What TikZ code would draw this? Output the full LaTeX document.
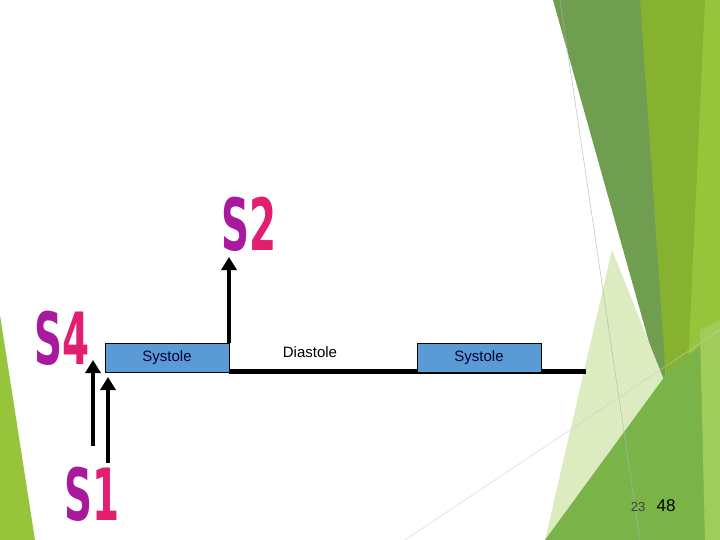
\documentclass[tikz,border=0pt]{standalone}
\usepackage{fontspec}
\setmainfont{Liberation Sans}
\newfontfamily\condfont{DejaVu Sans Condensed Bold}
\usetikzlibrary{arrows.meta}
\definecolor{boxblue}{HTML}{5B9BD5}
\definecolor{sPurple}{HTML}{A8199E}
\definecolor{sPink}{HTML}{E11F6E}
\tikzset{
  sysbox/.style={draw=black, line width=0.8pt, fill=boxblue, minimum width=124pt, minimum height=29pt, inner sep=0pt, font=\fontsize{15}{17}\selectfont, text=black!80!blue},
  bigarrow/.style={line width=4pt, -{Triangle[width=15pt,length=13pt]}},
  heart/.style={font=\condfont\fontsize{72}{72}\selectfont, xscale=0.6, inner sep=0pt}
}
\newcommand{\heartlbl}[1]{\textcolor{sPurple}{S}\textcolor{sPink}{#1}}
\begin{document}
\begin{tikzpicture}[x=1pt,y=-1pt]
\useasboundingbox (0,0) rectangle (720,540);
\fill[white] (0,0) rectangle (720,540);
\fill[color={rgb,255:red,134;green,178;blue,48}] (630,0) -- (720,0) -- (720,540) -- (655,540) -- (668,400) -- cycle;
\fill[color={rgb,255:red,150;green,196;blue,58}] (705,0) -- (720,0) -- (720,540) -- (680,540) -- cycle;
\fill[color={rgb,255:red,112;green,158;blue,80}] (553,0) -- (640,0) -- (668,410) -- cycle;
\fill[color={rgb,255:red,221;green,235;blue,192}] (612,250) -- (672,400) -- (600,540) -- (545,540) -- cycle;
\fill[color={rgb,255:red,122;green,180;blue,72}] (545,540) -- (668,372) -- (720,330) -- (720,540) -- cycle;
\fill[color={rgb,255:red,160;green,205;blue,90}] (700,330) -- (720,320) -- (720,540) -- (705,540) -- cycle;
\fill[color={rgb,255:red,150;green,196;blue,58}] (0,315) -- (35,540) -- (0,540) -- cycle;
\draw[gray!60, line width=0.4pt] (560,0) -- (640,540);
\draw[gray!40, line width=0.4pt] (405,540) -- (720,330);
\coordinate (lineStart) at (229,371);
\coordinate (lineEnd) at (586,371);
\draw[line width=5pt] (lineStart) -- (lineEnd);
\node[sysbox] (sys1) at (167,358) {Systole};
\node[sysbox] (sys2) at (479,358) {Systole};
\node[font=\fontsize{15}{17}\selectfont] (dia) at (310,352) {Diastole};
\node[heart] (s4) at (62,338) {\heartlbl{4}};
\node[heart] (s2) at (249,224) {\heartlbl{2}};
\node[heart] (s1) at (92,494) {\heartlbl{1}};
\coordinate (s2base) at (229,343);
\coordinate (s2tip) at (229,257);
\coordinate (s4base) at (93,446);
\coordinate (s4tip) at (93,360);
\coordinate (s1base) at (108,463);
\coordinate (s1tip) at (108,377);
\draw[bigarrow] (s2base) -- (s2tip);
\draw[bigarrow] (s4base) -- (s4tip);
\draw[bigarrow] (s1base) -- (s1tip);
\node[text=black!75, font=\fontsize{13}{14}\selectfont] (p1) at (638,507) {23};
\node[font=\fontsize{17}{18}\selectfont] (p2) at (666,506) {48};
\end{tikzpicture}
\end{document}
